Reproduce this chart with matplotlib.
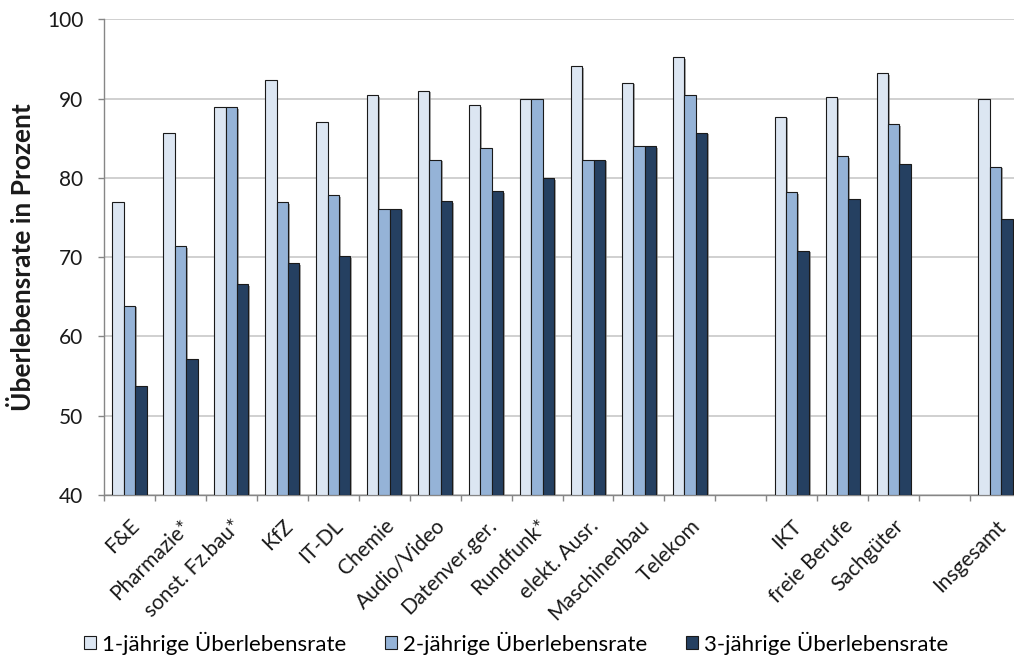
import matplotlib
matplotlib.use("Agg")
import matplotlib.pyplot as plt
import matplotlib.patheffects as pe
import numpy as np

# Industry groups (left to right); a blank slot separates each block
branchen = ["F&E", "Pharmazie*", "sonst. Fz.bau*", "KfZ", "IT-DL", "Chemie",
            "Audio/Video", "Datenver.ger.", "Rundfunk*", "elekt. Ausr.",
            "Maschinenbau", "Telekom"]
sektoren = ["IKT", "freie Berufe", "Sachgüter"]
gesamt = ["Insgesamt"]

# Survival rates in percent, same order as the labels above
rate_1j = [76.9, 85.7, 88.9, 92.3, 87.1, 90.4, 91.0, 89.2, 90.0, 94.1, 92.0, 95.2,
           87.7, 90.2, 93.2,
           89.9]
rate_2j = [63.9, 71.4, 88.9, 76.9, 77.8, 76.1, 82.3, 83.8, 90.0, 82.3, 84.0, 90.4,
           78.2, 82.7, 86.8,
           81.4]
rate_3j = [53.7, 57.1, 66.6, 69.2, 70.1, 76.1, 77.1, 78.3, 80.0, 82.3, 84.0, 85.7,
           70.8, 77.3, 81.8,
           74.8]

series_labels = ["1-jährige Überlebensrate", "2-jährige Überlebensrate",
                 "3-jährige Überlebensrate"]
colors = ["#dce6f2", "#95b3d7", "#254061"]

plt.rcParams["font.family"] = ["Lato", "DejaVu Sans"]

# slot positions with an empty slot between blocks
positions = []
labels = []
slot = 0
for block in (branchen, sektoren, gesamt):
    for name in block:
        positions.append(slot)
        labels.append(name)
        slot += 1
    slot += 1
n_slots = slot - 1
positions = np.array(positions, dtype=float)

fig = plt.figure(figsize=(10.14, 6.57), dpi=100)
left = 104 / 1014
right = 1021 / 1014
bottom = 1 - 495 / 657
top = 1 - 19.3 / 657
ax = fig.add_axes([left, bottom, right - left, top - bottom])

bw = 0.224
shadow = [pe.SimplePatchShadow(offset=(1.2, -1.2), shadow_rgbFace="#808080", alpha=0.7),
          pe.Normal()]
handles = []
for i, (vals, col, lab) in enumerate(zip((rate_1j, rate_2j, rate_3j), colors, series_labels)):
    bars = ax.bar(positions + (i - 1) * bw, np.array(vals) - 40, bottom=40, width=bw,
                  color=col, edgecolor="#1a1a1a", linewidth=0.8, label=lab, zorder=3)
    for b in bars:
        b.set_path_effects(shadow)
    handles.append(bars)

ax.set_ylim(40, 100)
ax.set_xlim(-0.5, n_slots - 0.5)
ax.set_yticks(np.arange(40, 101, 10))
ax.yaxis.grid(True, color="#c8c8c8", linewidth=1.2, zorder=0)
ax.set_axisbelow(True)

ax.set_xticks(positions)
ax.set_xticklabels(labels, rotation=45, ha="right", rotation_mode="anchor",
                   fontsize=15, color="#1a1a1a")
ax.set_xticks(np.arange(-0.5, n_slots, 1.0), minor=True)
ax.tick_params(axis="x", which="major", length=0, pad=15)
ax.tick_params(axis="x", which="minor", length=4.5, color="#868686", width=1)
ax.tick_params(axis="y", length=4.5, color="#868686", width=1, labelsize=15,
               labelcolor="#1a1a1a", pad=10.5)

for s in ("top", "right"):
    ax.spines[s].set_visible(False)
for s in ("left", "bottom"):
    ax.spines[s].set_color("#868686")
    ax.spines[s].set_linewidth(1)

ax.set_ylabel("Überlebensrate in Prozent", fontsize=19, fontweight="bold",
              color="#1a1a1a")
ax.yaxis.set_label_coords(-69 / 917, 0.5)

leg = fig.legend(handles=handles, labels=series_labels, loc="center",
                 bbox_to_anchor=(516 / 1014, 1 - 643 / 657), ncol=3, frameon=False,
                 fontsize=16, handlelength=0.55, handleheight=0.55, handletextpad=0.25,
                 columnspacing=1.75)
for h in leg.legend_handles:
    h.set_path_effects([])
    h.set_edgecolor("#1a1a1a")
    h.set_linewidth(0.8)

fig.savefig("out.png", dpi=100)
